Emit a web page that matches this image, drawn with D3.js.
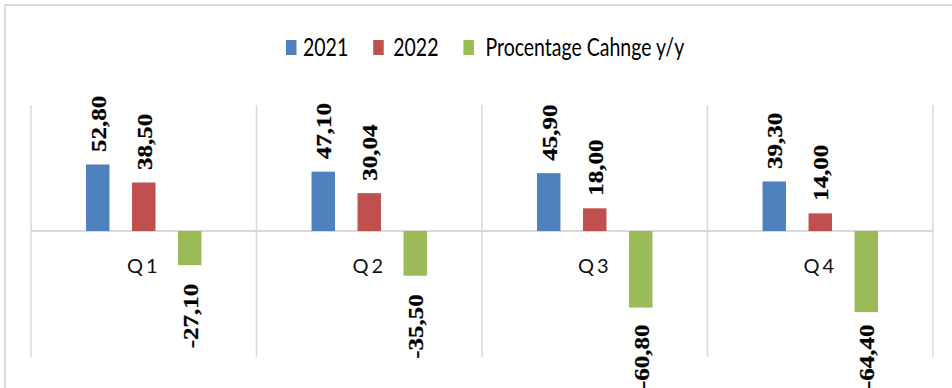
<!DOCTYPE html>
<html>
<head>
<meta charset="utf-8">
<script src="https://cdn.jsdelivr.net/npm/d3@7/dist/d3.min.js"></script>
<style>
  html, body { margin: 0; padding: 0; background: #fff; }
  svg { display: block; }
</style>
</head>
<body>
<svg id="chart" width="952" height="388"></svg>
<script>
// Quarterly values and the year-over-year change
const quarters = ["Q1", "Q2", "Q3", "Q4"];
const seriesNames = ["2021", "2022", "Procentage Cahnge y/y"];
const values2021 = [52.80, 47.10, 45.90, 39.30];
const values2022 = [38.50, 30.04, 18.00, 14.00];
const changeYoY = [-27.10, -35.50, -60.80, -64.40];
const seriesColors = ["#4F81BD", "#C0504D", "#9BBB59"];
const valueDomain = [-100, 100];

const seriesValues = [values2021, values2022, changeYoY];
const rows = [];
quarters.forEach((q, i) => {
  seriesNames.forEach((s, j) => rows.push({ quarter: q, series: s, si: j, value: seriesValues[j][i] }));
});

const W = 952, H = 388;
const plot = { left: 31, right: 933, top: 105, bottom: 357 };
const gridColor = "#d9d9d9";

const svg = d3.select("#chart");

// outer chart frame (runs off the right and bottom edges)
svg.append("path")
  .attr("d", `M5,${H + 2} L5,5 L${W + 2},5`)
  .attr("fill", "none")
  .attr("stroke", gridColor)
  .attr("stroke-width", 2);

const x = d3.scaleBand().domain(quarters).range([plot.left, plot.right]).padding(0);
const xInner = d3.scaleBand().domain(seriesNames).range([0, x.bandwidth()])
  .paddingInner(0.49).paddingOuter(1.196);
const y = d3.scaleLinear().domain(valueDomain).range([plot.bottom, plot.top]);

// category separators
const edges = quarters.map(q => x(q)).concat([x(quarters[quarters.length - 1]) + x.bandwidth()]);
svg.append("g").selectAll("line").data(edges).join("line")
  .attr("x1", d => d).attr("x2", d => d)
  .attr("y1", plot.top).attr("y2", plot.bottom)
  .attr("stroke", gridColor).attr("stroke-width", 1.5);

// zero axis line
svg.append("line")
  .attr("x1", plot.left).attr("x2", plot.right)
  .attr("y1", y(0)).attr("y2", y(0))
  .attr("stroke", gridColor).attr("stroke-width", 2);

// bars
const barX = d => x(d.quarter) + xInner(d.series);
svg.append("g").selectAll("rect").data(rows).join("rect")
  .attr("x", barX)
  .attr("width", xInner.bandwidth())
  .attr("y", d => y(Math.max(0, d.value)))
  .attr("height", d => Math.abs(y(d.value) - y(0)))
  .attr("fill", d => seriesColors[d.si]);

// category labels sitting just below the zero line
svg.append("g").selectAll("text").data(quarters).join("text")
  .attr("x", q => x(q) + x.bandwidth() / 2)
  .attr("y", 272.5)
  .attr("text-anchor", "middle")
  .attr("font-family", "Lato, 'Open Sans', sans-serif")
  .attr("font-size", 20)
  .attr("letter-spacing", 3)
  .attr("fill", "#111")
  .text(q => q);

// rotated value labels
const fmt = v => v.toFixed(2).replace(".", ",");
const labels = svg.append("g").selectAll("text").data(rows).join("text")
  .attr("font-family", "'Liberation Serif', 'Times New Roman', serif")
  .attr("font-weight", "bold")
  .attr("font-size", 25)
  .attr("fill", "#000")
  .attr("stroke", "#000")
  .attr("stroke-width", 0.3)
  .text(d => fmt(d.value));

labels.each(function(d) {
  const el = d3.select(this);
  const len = this.getComputedTextLength();
  const cx = barX(d) + xInner.bandwidth() / 2 + 8;
  let yy;
  if (d.value >= 0) {
    // text runs upward from just above the bar top
    yy = y(d.value) - 12.5;
  } else {
    // below the bar, kept inside the chart area
    const top = Math.min(y(d.value) + 18.5, 389 - len);
    yy = top + len;
  }
  el.attr("text-anchor", "start")
    .attr("transform", `translate(${cx},${yy}) rotate(-90) scale(1,0.8)`);
});

// legend
const legend = svg.append("g").attr("transform", "translate(286,0)");
const textScale = 0.78;
const textOffset = [17, 20, 22];
let cursor = 0;
seriesNames.forEach((name, i) => {
  const g = legend.append("g").attr("transform", `translate(${cursor},0)`);
  g.append("rect").attr("x", 0).attr("y", 40).attr("width", 10.5).attr("height", 15)
    .attr("fill", seriesColors[i]);
  const t = g.append("text")
    .attr("font-family", "Lato, 'Open Sans', sans-serif")
    .attr("font-size", 25)
    .attr("fill", "#000")
    .attr("transform", `translate(${textOffset[i]},56) scale(${textScale},1)`)
    .text(name);
  cursor += textOffset[i] + t.node().getComputedTextLength() * textScale + 25;
});
</script>
</body>
</html>
